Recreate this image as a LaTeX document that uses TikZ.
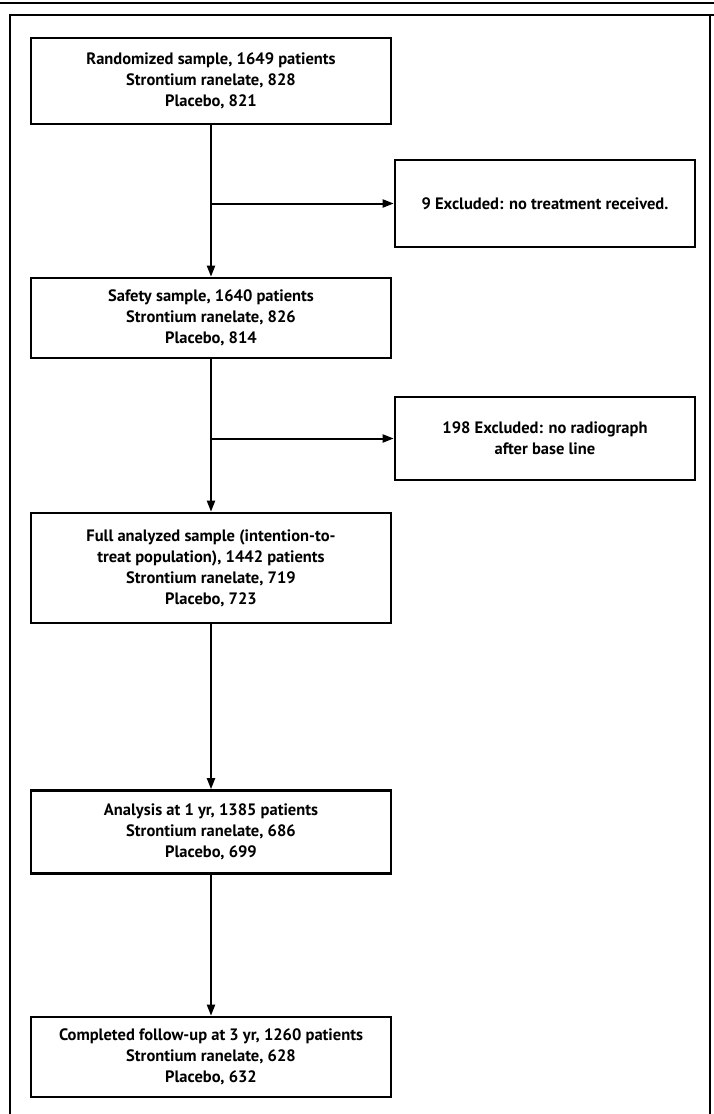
\documentclass[tikz,border=0pt]{standalone}
\usepackage{fontspec}
\setmainfont{PT Sans}
\usetikzlibrary{arrows.meta}
\begin{document}
\begin{tikzpicture}[x=1pt,y=-1pt,
  box/.style={draw, line width=2.6pt, rectangle, align=center,
    font=\bfseries\fontsize{16.5}{21}\selectfont, inner sep=0pt},
  mainbox/.style={box, minimum width=360pt},
  sidebox/.style={box, minimum width=300pt},
  conn/.style={line width=2pt, -{Triangle[length=11pt,width=8pt]}},
  frameline/.style={line width=2.4pt}]
\useasboundingbox (0,0) rectangle (714,1114);
% frame
\draw[line width=1.6pt] (0,3) -- (714,3);
\draw[frameline] (10,1114) -- (10,15) -- (714,15);
\draw[line width=1.4pt] (710,15) -- (710,1114);
% boxes
\node[mainbox, minimum height=86pt] (b1) at (211,81)
  {Randomized sample, 1649 patients\\Strontium ranelate, 828\\Placebo, 821};
\node[sidebox, minimum height=87pt] (b9) at (545,203.5)
  {9 Excluded: no treatment received.};
\node[mainbox, minimum height=80pt] (b2) at (211,318)
  {Safety sample, 1640 patients\\Strontium ranelate, 826\\Placebo, 814};
\node[sidebox, minimum height=83pt] (b198) at (545,438.5)
  {198 Excluded: no radiograph\\after base line};
\node[mainbox, minimum height=110pt] (b3) at (211,568)
  {Full analyzed sample (intention-to-\\treat population), 1442 patients\\Strontium ranelate, 719\\Placebo, 723};
\node[mainbox, minimum height=83pt] (b4) at (211,832)
  {Analysis at 1 yr, 1385 patients\\Strontium ranelate, 686\\Placebo, 699};
\node[mainbox, minimum height=80pt] (b5) at (211,1057)
  {Completed follow-up at 3 yr, 1260 patients\\Strontium ranelate, 628\\Placebo, 632};
% connectors
\draw[conn] (b1.south) -- (b2.north);
\draw[conn] (b1.south |- b9.west) -- (b9.west);
\draw[conn] (b2.south) -- (b3.north);
\draw[conn] (b2.south |- b198.west) -- (b198.west);
\draw[conn] (b3.south) -- (b4.north);
\draw[conn] (b4.south) -- (b5.north);
\end{tikzpicture}
\end{document}
